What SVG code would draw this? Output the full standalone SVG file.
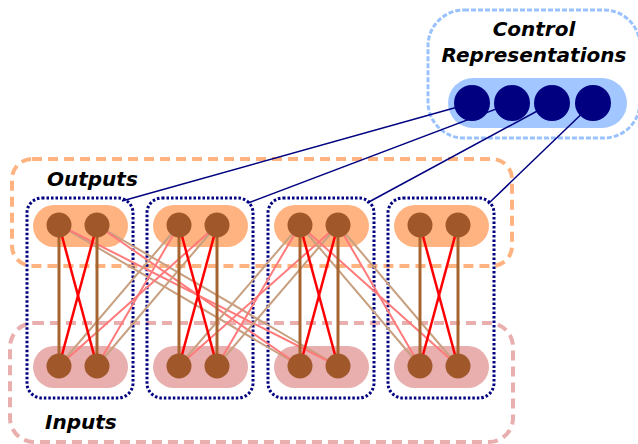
<svg xmlns="http://www.w3.org/2000/svg" width="638" height="444" viewBox="0 0 638 444">
<style>
.lbl{font-family:"DejaVu Sans","Verdana",sans-serif;font-weight:bold;font-style:italic;font-size:20px;fill:#000}
.mod{fill:none;stroke:#000080;stroke-width:3;stroke-dasharray:2.5 2}
.op{fill:#ffb380}
.ip{fill:#e9afaf}
.n{fill:#a0582b}
.c{fill:#000080}
.br{stroke:#a8642f;stroke-width:3}
.rd{stroke:#ff0000;stroke-width:2.5}
.lr{stroke:#ff7a7a;stroke-width:2}
.tn{stroke:#c8a080;stroke-width:2}
.ctl{stroke:#000080;stroke-width:1.5}
</style>
<g id="control-box">
<rect x="428" y="10" width="212" height="128" rx="36" fill="none" stroke="#99c2ff" stroke-width="3" stroke-dasharray="5 2"/>
<text class="lbl" x="534" y="36" text-anchor="middle">Control</text>
<text class="lbl" x="534" y="62" text-anchor="middle">Representations</text>
<rect x="448" y="78" width="179" height="50" rx="25" fill="#a2c6ff"/>
</g>
<g id="outputs-box">
<rect x="12" y="159" width="500" height="107" rx="20" fill="none" stroke="#ffb380" stroke-width="4" stroke-dasharray="10 6"/>
<text class="lbl" x="47" y="186">Outputs</text>
</g>
<g id="inputs-box">
<rect x="10" y="323" width="503" height="119" rx="24" fill="none" stroke="#e9afaf" stroke-width="4" stroke-dasharray="10 6"/>
<text class="lbl" x="45" y="429">Inputs</text>
</g>
<g id="module1">
<rect class="mod" x="27" y="198" width="106" height="200" rx="15"/>
<rect class="op" x="33" y="205" width="95" height="42" rx="21"/>
<rect class="ip" x="33" y="346" width="95" height="42" rx="21"/>
</g>
<g id="module2">
<rect class="mod" x="147" y="198" width="106" height="200" rx="15"/>
<rect class="op" x="153" y="205" width="95" height="42" rx="21"/>
<rect class="ip" x="153" y="346" width="95" height="42" rx="21"/>
</g>
<g id="module3">
<rect class="mod" x="268" y="198" width="106" height="200" rx="15"/>
<rect class="op" x="274" y="205" width="95" height="42" rx="21"/>
<rect class="ip" x="274" y="346" width="95" height="42" rx="21"/>
</g>
<g id="module4">
<rect class="mod" x="388" y="198" width="106" height="200" rx="15"/>
<rect class="op" x="394" y="205" width="95" height="42" rx="21"/>
<rect class="ip" x="394" y="346" width="95" height="42" rx="21"/>
</g>
<g id="connectors" fill="none">
<line class="ctl" x1="472" y1="103" x2="122" y2="201"/>
<line class="ctl" x1="512" y1="103" x2="248" y2="203"/>
<line class="ctl" x1="552" y1="103" x2="367" y2="203"/>
<line class="ctl" x1="593" y1="103" x2="488" y2="204"/>
<line class="tn" x1="59" y1="225" x2="300" y2="366"/>
<line class="tn" x1="97" y1="225" x2="338" y2="366"/>
<line class="lr" x1="59" y1="225" x2="338" y2="366"/>
<line class="lr" x1="97" y1="225" x2="300" y2="366"/>
<line class="tn" x1="179" y1="225" x2="59" y2="366"/>
<line class="tn" x1="217" y1="225" x2="97" y2="366"/>
<line class="lr" x1="179" y1="225" x2="97" y2="366"/>
<line class="lr" x1="217" y1="225" x2="59" y2="366"/>
<line class="tn" x1="300" y1="225" x2="179" y2="366"/>
<line class="tn" x1="338" y1="225" x2="217" y2="366"/>
<line class="lr" x1="300" y1="225" x2="217" y2="366"/>
<line class="lr" x1="338" y1="225" x2="179" y2="366"/>
<line class="tn" x1="300" y1="225" x2="420" y2="366"/>
<line class="tn" x1="338" y1="225" x2="458" y2="366"/>
<line class="lr" x1="300" y1="225" x2="458" y2="366"/>
<line class="lr" x1="338" y1="225" x2="420" y2="366"/>
<line class="br" x1="59" y1="225" x2="59" y2="366"/>
<line class="br" x1="97" y1="225" x2="97" y2="366"/>
<line class="rd" x1="59" y1="225" x2="97" y2="366"/>
<line class="rd" x1="97" y1="225" x2="59" y2="366"/>
<line class="br" x1="179" y1="225" x2="179" y2="366"/>
<line class="br" x1="217" y1="225" x2="217" y2="366"/>
<line class="rd" x1="179" y1="225" x2="217" y2="366"/>
<line class="rd" x1="217" y1="225" x2="179" y2="366"/>
<line class="br" x1="300" y1="225" x2="300" y2="366"/>
<line class="br" x1="338" y1="225" x2="338" y2="366"/>
<line class="rd" x1="300" y1="225" x2="338" y2="366"/>
<line class="rd" x1="338" y1="225" x2="300" y2="366"/>
<line class="br" x1="420" y1="225" x2="420" y2="366"/>
<line class="br" x1="458" y1="225" x2="458" y2="366"/>
<line class="rd" x1="420" y1="225" x2="458" y2="366"/>
<line class="rd" x1="458" y1="225" x2="420" y2="366"/>
</g>
<g id="control-nodes">
<circle class="c" cx="472" cy="103" r="18"/>
<circle class="c" cx="512" cy="103" r="18"/>
<circle class="c" cx="552" cy="103" r="18"/>
<circle class="c" cx="593" cy="103" r="18"/>
</g>
<g id="m1-nodes">
<circle class="n" cx="59" cy="225" r="12.5"/><circle class="n" cx="97" cy="225" r="12.5"/>
<circle class="n" cx="59" cy="366" r="12.5"/><circle class="n" cx="97" cy="366" r="12.5"/>
</g>
<g id="m2-nodes">
<circle class="n" cx="179" cy="225" r="12.5"/><circle class="n" cx="217" cy="225" r="12.5"/>
<circle class="n" cx="179" cy="366" r="12.5"/><circle class="n" cx="217" cy="366" r="12.5"/>
</g>
<g id="m3-nodes">
<circle class="n" cx="300" cy="225" r="12.5"/><circle class="n" cx="338" cy="225" r="12.5"/>
<circle class="n" cx="300" cy="366" r="12.5"/><circle class="n" cx="338" cy="366" r="12.5"/>
</g>
<g id="m4-nodes">
<circle class="n" cx="420" cy="225" r="12.5"/><circle class="n" cx="458" cy="225" r="12.5"/>
<circle class="n" cx="420" cy="366" r="12.5"/><circle class="n" cx="458" cy="366" r="12.5"/>
</g>
</svg>
